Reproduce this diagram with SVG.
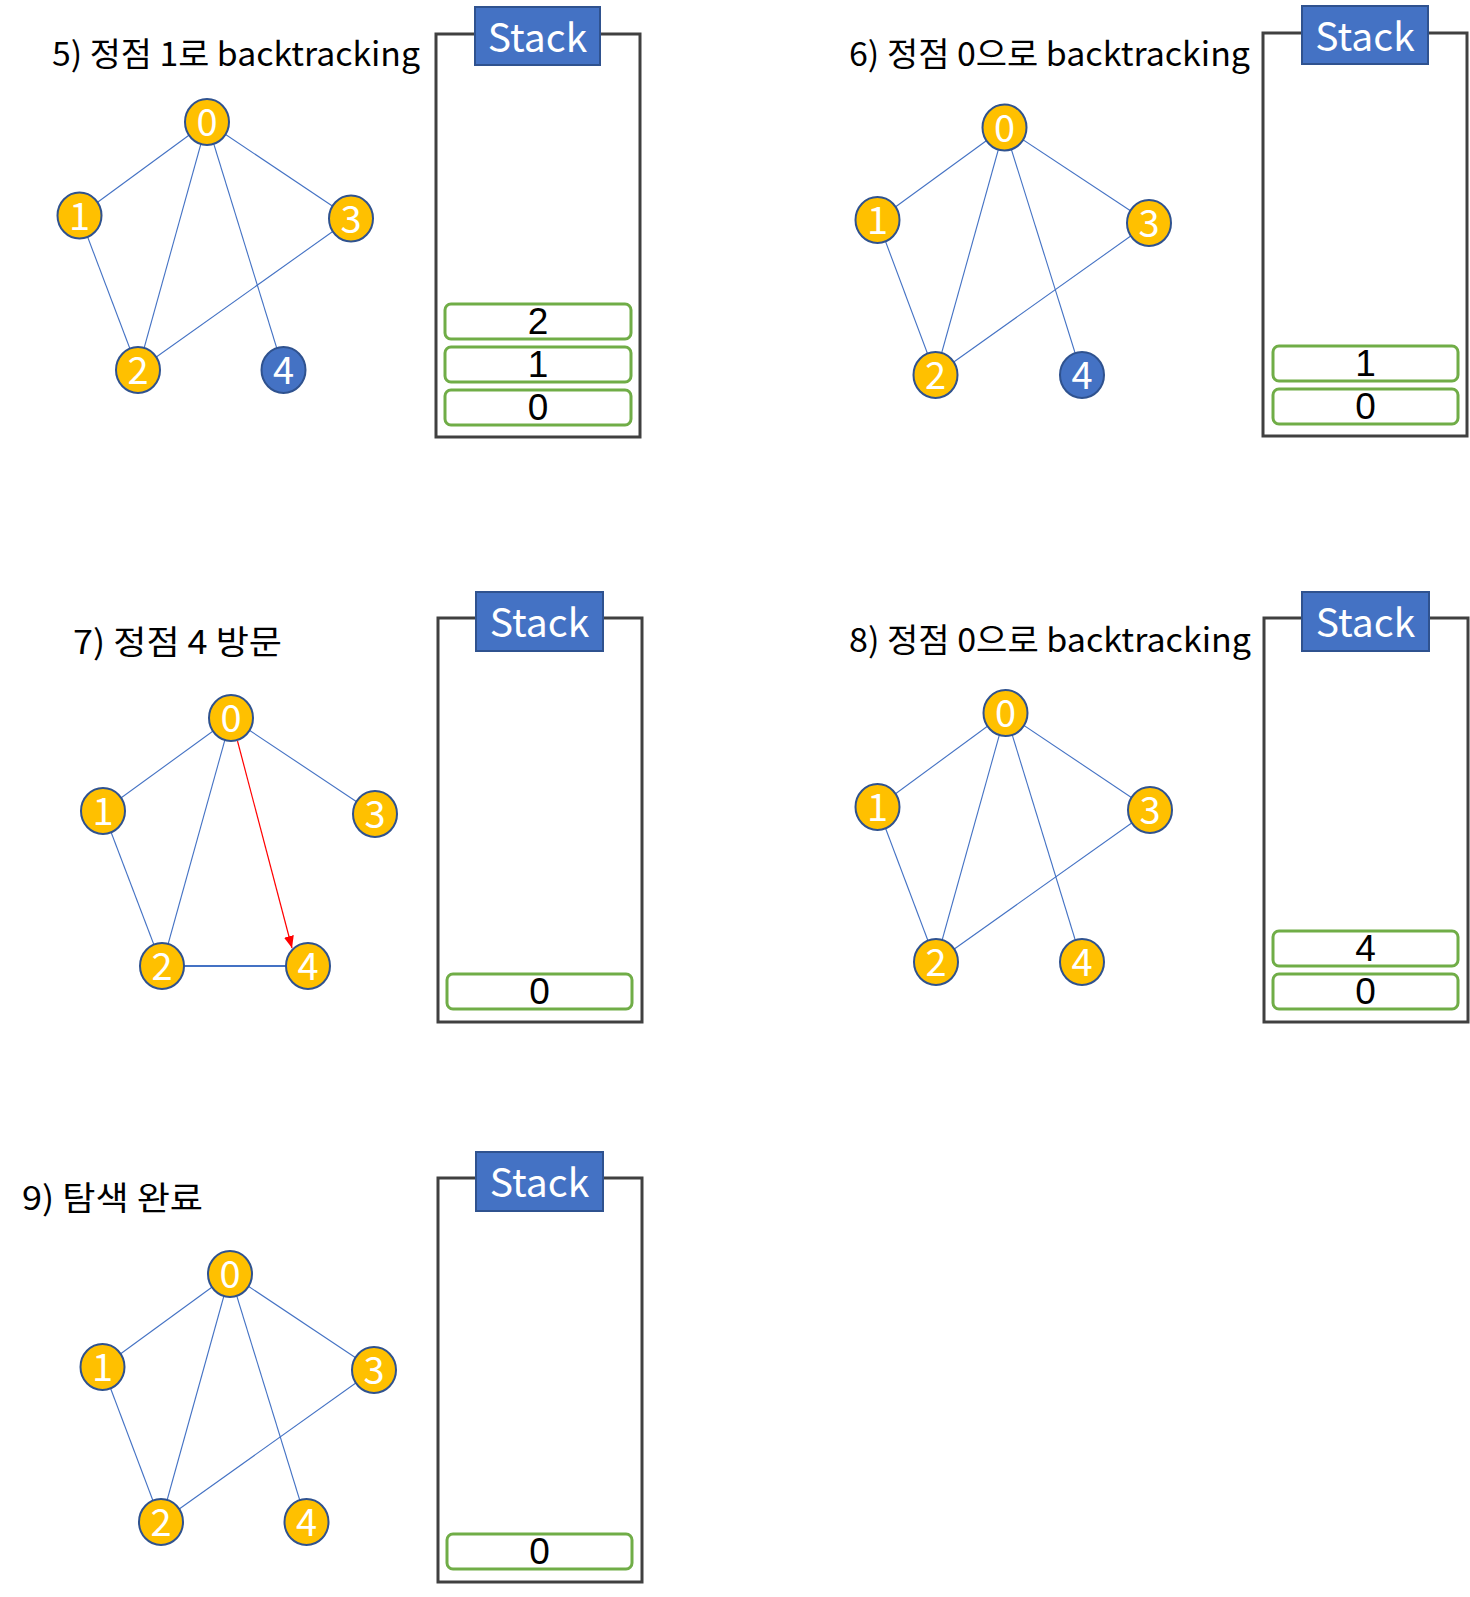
<svg xmlns="http://www.w3.org/2000/svg" width="1470" height="1597" viewBox="0 0 1470 1597">
<style>
.bg{fill:#ffffff}
.title{font-family:"Noto Sans CJK KR","Noto Sans",sans-serif;font-size:33px;fill:#000000}
.edge{stroke:#4472C4;stroke-width:1.1;fill:none}
.edge2{stroke:#4472C4;stroke-width:1.8;fill:none}
.red{stroke:#FF0000;stroke-width:1.2;fill:none}
.node ellipse{fill:#FFC000;stroke:#2F528F;stroke-width:2}
.node.blue ellipse{fill:#4472C4}
.node text{font-family:"Noto Sans CJK KR","Noto Sans",sans-serif;font-size:38px;fill:#ffffff;text-anchor:middle}
.box{fill:#ffffff;stroke:#404040;stroke-width:3}
.hdr rect{fill:#4472C4;stroke:#2F528F;stroke-width:2}
.hdr text{font-family:"Noto Sans CJK KR","Noto Sans",sans-serif;font-size:39px;fill:#ffffff;text-anchor:middle}
.item rect{fill:#ffffff;stroke:#70AD47;stroke-width:3}
.item text{font-family:"Liberation Sans",Arial,sans-serif;font-size:37px;fill:#000000;text-anchor:middle}
</style>
<defs>
<marker id="arrRed" markerUnits="userSpaceOnUse" markerWidth="12" markerHeight="10" refX="12" refY="5" orient="auto">
<path d="M0,0 L12,5 L0,10 z" fill="#FF0000"/>
</marker>
</defs>
<rect class="bg" x="0" y="0" width="1470" height="1597"/>

<!-- ===== Panel 5 ===== -->
<g id="p5">
<text class="title" x="52" y="66" textLength="368" lengthAdjust="spacingAndGlyphs">5) 정점 1로 backtracking</text>
<g id="p5-connectors">
<line class="edge" x1="207" y1="122" x2="79.5" y2="215.5"/>
<line class="edge" x1="207" y1="122" x2="138" y2="370"/>
<line class="edge" x1="207" y1="122" x2="351" y2="218.5"/>
<line class="edge" x1="207" y1="122" x2="283.5" y2="370"/>
<line class="edge" x1="79.5" y1="215.5" x2="138" y2="370"/>
<line class="edge" x1="351" y1="218.5" x2="138" y2="370"/>
</g>
<g id="p5-n0" class="node"><ellipse cx="207" cy="122" rx="22" ry="23"/><text x="207" y="136">0</text></g>
<g id="p5-n1" class="node"><ellipse cx="79.5" cy="215.5" rx="22" ry="23"/><text x="79.5" y="229.5">1</text></g>
<g id="p5-n3" class="node"><ellipse cx="351" cy="218.5" rx="22" ry="23"/><text x="351" y="232.5">3</text></g>
<g id="p5-n2" class="node"><ellipse cx="138" cy="370" rx="22" ry="23"/><text x="138" y="384">2</text></g>
<g id="p5-n4" class="node blue"><ellipse cx="283.5" cy="370" rx="22" ry="23"/><text x="283.5" y="384">4</text></g>
<g id="p5-stack">
<rect class="box" x="436" y="34" width="204" height="403"/>
<g class="hdr"><rect x="475" y="7" width="125" height="58"/><text x="537.5" y="52">Stack</text></g>
<g class="item"><rect x="445" y="304" width="186" height="35" rx="6"/><text x="538" y="334">2</text></g>
<g class="item"><rect x="445" y="347" width="186" height="35" rx="6"/><text x="538" y="377">1</text></g>
<g class="item"><rect x="445" y="390" width="186" height="35" rx="6"/><text x="538" y="420">0</text></g>
</g>
</g>

<!-- ===== Panel 6 ===== -->
<g id="p6">
<text class="title" x="849" y="66" textLength="401" lengthAdjust="spacingAndGlyphs">6) 정점 0으로 backtracking</text>
<g id="p6-connectors">
<line class="edge" x1="1004.5" y1="127.5" x2="877.5" y2="220"/>
<line class="edge" x1="1004.5" y1="127.5" x2="935.5" y2="375"/>
<line class="edge" x1="1004.5" y1="127.5" x2="1149" y2="223"/>
<line class="edge" x1="1004.5" y1="127.5" x2="1082" y2="375"/>
<line class="edge" x1="877.5" y1="220" x2="935.5" y2="375"/>
<line class="edge" x1="1149" y1="223" x2="935.5" y2="375"/>
</g>
<g id="p6-n0" class="node"><ellipse cx="1004.5" cy="127.5" rx="22" ry="23"/><text x="1004.5" y="141.5">0</text></g>
<g id="p6-n1" class="node"><ellipse cx="877.5" cy="220" rx="22" ry="23"/><text x="877.5" y="234">1</text></g>
<g id="p6-n3" class="node"><ellipse cx="1149" cy="223" rx="22" ry="23"/><text x="1149" y="237">3</text></g>
<g id="p6-n2" class="node"><ellipse cx="935.5" cy="375" rx="22" ry="23"/><text x="935.5" y="389">2</text></g>
<g id="p6-n4" class="node blue"><ellipse cx="1082" cy="375" rx="22" ry="23"/><text x="1082" y="389">4</text></g>
<g id="p6-stack">
<rect class="box" x="1263" y="33" width="204" height="403"/>
<g class="hdr"><rect x="1302" y="6" width="126" height="58"/><text x="1365" y="51">Stack</text></g>
<g class="item"><rect x="1273" y="346" width="185" height="35" rx="6"/><text x="1365.5" y="376">1</text></g>
<g class="item"><rect x="1273" y="389" width="185" height="35" rx="6"/><text x="1365.5" y="419">0</text></g>
</g>
</g>

<!-- ===== Panel 7 ===== -->
<g id="p7">
<text class="title" x="73" y="654" textLength="209" lengthAdjust="spacingAndGlyphs">7) 정점 4 방문</text>
<g id="p7-connectors">
<line class="edge" x1="231" y1="718" x2="103" y2="811"/>
<line class="edge" x1="231" y1="718" x2="162" y2="966"/>
<line class="edge" x1="231" y1="718" x2="375" y2="814"/>
<line class="edge" x1="103" y1="811" x2="162" y2="966"/>
<line class="edge2" x1="162" y1="966" x2="308" y2="966"/>
<line class="red" x1="237.5" y1="741" x2="292" y2="948" marker-end="url(#arrRed)"/>
</g>
<g id="p7-n0" class="node"><ellipse cx="231" cy="718" rx="22" ry="23"/><text x="231" y="732">0</text></g>
<g id="p7-n1" class="node"><ellipse cx="103" cy="811" rx="22" ry="23"/><text x="103" y="825">1</text></g>
<g id="p7-n3" class="node"><ellipse cx="375" cy="814" rx="22" ry="23"/><text x="375" y="828">3</text></g>
<g id="p7-n2" class="node"><ellipse cx="162" cy="966" rx="22" ry="23"/><text x="162" y="980">2</text></g>
<g id="p7-n4" class="node"><ellipse cx="308" cy="966" rx="22" ry="23"/><text x="308" y="980">4</text></g>
<g id="p7-stack">
<rect class="box" x="438" y="618" width="204" height="404"/>
<g class="hdr"><rect x="476" y="592" width="127" height="59"/><text x="539.5" y="637">Stack</text></g>
<g class="item"><rect x="447" y="974" width="185" height="35" rx="6"/><text x="539.5" y="1004">0</text></g>
</g>
</g>

<!-- ===== Panel 8 ===== -->
<g id="p8">
<text class="title" x="849" y="652" textLength="402" lengthAdjust="spacingAndGlyphs">8) 정점 0으로 backtracking</text>
<g id="p8-connectors">
<line class="edge" x1="1005.5" y1="713" x2="877.5" y2="807"/>
<line class="edge" x1="1005.5" y1="713" x2="936" y2="962"/>
<line class="edge" x1="1005.5" y1="713" x2="1150" y2="810"/>
<line class="edge" x1="1005.5" y1="713" x2="1082" y2="962"/>
<line class="edge" x1="877.5" y1="807" x2="936" y2="962"/>
<line class="edge" x1="1150" y1="810" x2="936" y2="962"/>
</g>
<g id="p8-n0" class="node"><ellipse cx="1005.5" cy="713" rx="22" ry="23"/><text x="1005.5" y="727">0</text></g>
<g id="p8-n1" class="node"><ellipse cx="877.5" cy="807" rx="22" ry="23"/><text x="877.5" y="821">1</text></g>
<g id="p8-n3" class="node"><ellipse cx="1150" cy="810" rx="22" ry="23"/><text x="1150" y="824">3</text></g>
<g id="p8-n2" class="node"><ellipse cx="936" cy="962" rx="22" ry="23"/><text x="936" y="976">2</text></g>
<g id="p8-n4" class="node"><ellipse cx="1082" cy="962" rx="22" ry="23"/><text x="1082" y="976">4</text></g>
<g id="p8-stack">
<rect class="box" x="1264" y="618" width="204" height="404"/>
<g class="hdr"><rect x="1302" y="592" width="127" height="59"/><text x="1365.5" y="637">Stack</text></g>
<g class="item"><rect x="1273" y="931" width="185" height="35" rx="6"/><text x="1365.5" y="961">4</text></g>
<g class="item"><rect x="1273" y="974" width="185" height="35" rx="6"/><text x="1365.5" y="1004">0</text></g>
</g>
</g>

<!-- ===== Panel 9 ===== -->
<g id="p9">
<text class="title" x="22" y="1210" textLength="181" lengthAdjust="spacingAndGlyphs">9) 탐색 완료</text>
<g id="p9-connectors">
<line class="edge" x1="230" y1="1274" x2="102.5" y2="1367"/>
<line class="edge" x1="230" y1="1274" x2="161" y2="1522"/>
<line class="edge" x1="230" y1="1274" x2="374" y2="1370"/>
<line class="edge" x1="230" y1="1274" x2="306.5" y2="1522"/>
<line class="edge" x1="102.5" y1="1367" x2="161" y2="1522"/>
<line class="edge" x1="374" y1="1370" x2="161" y2="1522"/>
</g>
<g id="p9-n0" class="node"><ellipse cx="230" cy="1274" rx="22" ry="23"/><text x="230" y="1288">0</text></g>
<g id="p9-n1" class="node"><ellipse cx="102.5" cy="1367" rx="22" ry="23"/><text x="102.5" y="1381">1</text></g>
<g id="p9-n3" class="node"><ellipse cx="374" cy="1370" rx="22" ry="23"/><text x="374" y="1384">3</text></g>
<g id="p9-n2" class="node"><ellipse cx="161" cy="1522" rx="22" ry="23"/><text x="161" y="1536">2</text></g>
<g id="p9-n4" class="node"><ellipse cx="306.5" cy="1522" rx="22" ry="23"/><text x="306.5" y="1536">4</text></g>
<g id="p9-stack">
<rect class="box" x="438" y="1178" width="204" height="404"/>
<g class="hdr"><rect x="476" y="1152" width="127" height="59"/><text x="539.5" y="1197">Stack</text></g>
<g class="item"><rect x="447" y="1534" width="185" height="35" rx="6"/><text x="539.5" y="1564">0</text></g>
</g>
</g>
</svg>
